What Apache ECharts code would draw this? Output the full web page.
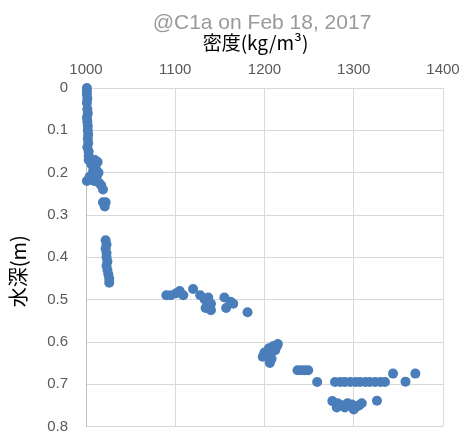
<!DOCTYPE html>
<html>
<head>
<meta charset="utf-8">
<script src="https://cdn.jsdelivr.net/npm/echarts@6/dist/echarts.min.js"></script>
<style>
  html, body { margin: 0; padding: 0; background: #fff; }
  #chart { width: 468px; height: 434px; }
</style>
</head>
<body>
<div id="chart"></div>
<script>
// Density profile at station C1a: density (kg/m³) vs water depth (m)
const titleText = '@C1a on Feb 18, 2017';
const xAxisName = '密度(kg/m³)';
const yAxisName = '水深(m)';

const density = [
  1001, 1001, 1001, 1001.5, 1001, 1001.5, 1002, 1001, 1001.5, 1002,
  1002, 1002.5, 1002, 1002.5, 1001.5, 1003, 1003,
  1003, 1010, 1013, 1006, 1011, 1008, 1014, 1004, 1012, 1001, 1009, 1015, 1017, 1019,
  1019, 1022, 1021,
  1022, 1023, 1022, 1023, 1023, 1024, 1023, 1024, 1025, 1026, 1026,
  1090, 1095, 1101, 1105, 1109, 1120, 1128, 1133, 1137, 1140, 1134, 1140,
  1155, 1162, 1157, 1165, 1181,
  1210, 1215, 1205, 1200, 1204, 1212, 1208, 1206, 1198, 1214,
  1237, 1241, 1245, 1249,
  1259, 1279, 1285, 1290, 1296, 1302, 1307, 1313, 1318, 1324, 1330, 1335,
  1344, 1358, 1369,
  1276, 1282, 1287, 1293, 1298, 1304, 1309, 1281, 1290, 1300, 1306, 1326
];

const depth = [
  0.000, 0.007, 0.015, 0.025, 0.035, 0.050, 0.060, 0.070, 0.080, 0.090,
  0.100, 0.110, 0.120, 0.130, 0.140, 0.150, 0.160,
  0.170, 0.170, 0.175, 0.180, 0.190, 0.195, 0.200, 0.210, 0.210, 0.220, 0.220, 0.225, 0.230, 0.240,
  0.270, 0.270, 0.280,
  0.360, 0.370, 0.380, 0.390, 0.400, 0.410, 0.420, 0.430, 0.440, 0.450, 0.460,
  0.490, 0.490, 0.485, 0.480, 0.490, 0.475, 0.490, 0.500, 0.495, 0.510, 0.520, 0.525,
  0.495, 0.505, 0.520, 0.510, 0.530,
  0.610, 0.605, 0.615, 0.625, 0.630, 0.620, 0.640, 0.650, 0.635, 0.610,
  0.667, 0.667, 0.667, 0.667,
  0.695, 0.695, 0.695, 0.695, 0.695, 0.695, 0.695, 0.695, 0.695, 0.695, 0.695, 0.695,
  0.675, 0.694, 0.675,
  0.740, 0.745, 0.750, 0.745, 0.748, 0.752, 0.745, 0.755, 0.755, 0.760, 0.750, 0.739
];

const xTicks = { min: 1000, max: 1400, interval: 100 };
const yTicks = { min: 0, max: 0.8, interval: 0.1 };

const points = density.map((d, i) => [d, depth[i]]);

const chart = echarts.init(document.getElementById('chart'));
chart.setOption({
  animation: false,
  backgroundColor: '#ffffff',
  title: {
    text: titleText,
    left: 257,
    top: 8,
    textAlign: 'center',
    textStyle: {
      fontFamily: 'Liberation Sans, Arial, sans-serif',
      fontSize: 21,
      fontWeight: 'normal',
      color: '#999999'
    }
  },
  grid: { left: 85, right: 25, top: 88, bottom: 6 },
  xAxis: {
    type: 'value',
    position: 'top',
    min: xTicks.min,
    max: xTicks.max,
    interval: xTicks.interval,
    name: xAxisName,
    nameLocation: 'middle',
    nameGap: 36,
    nameTextStyle: {
      fontFamily: 'Noto Sans CJK JP, sans-serif',
      fontSize: 19,
      color: '#000',
      padding: [0, 18, 0, 0]
    },
    axisLine: { show: false },
    axisTick: { show: false },
    axisLabel: {
      margin: 11,
      fontFamily: 'Liberation Sans, Arial, sans-serif',
      fontSize: 15,
      color: '#595959',
      formatter: (v) => String(v)
    },
    splitLine: { show: true, lineStyle: { color: '#d9d9d9', width: 1 } }
  },
  yAxis: {
    type: 'value',
    inverse: true,
    min: yTicks.min,
    max: yTicks.max,
    interval: yTicks.interval,
    name: yAxisName,
    nameLocation: 'middle',
    nameRotate: 90,
    nameGap: 58,
    nameTextStyle: {
      fontFamily: 'Noto Sans CJK JP, sans-serif',
      fontSize: 20,
      color: '#000',
      padding: [0, 28, 0, 0]
    },
    axisLine: { show: true, lineStyle: { color: '#bfbfbf', width: 1 } },
    axisTick: { show: false },
    axisLabel: {
      margin: 18,
      fontFamily: 'Liberation Sans, Arial, sans-serif',
      fontSize: 15,
      color: '#595959',
      formatter: (v) => String(Math.round(v * 10) / 10)
    },
    splitLine: { show: true, lineStyle: { color: '#d9d9d9', width: 1 } }
  },
  series: [{
    type: 'scatter',
    data: points,
    symbol: 'circle',
    symbolSize: 10,
    itemStyle: { color: '#4a7ebb', opacity: 1 }
  }]
});
</script>
</body>
</html>
